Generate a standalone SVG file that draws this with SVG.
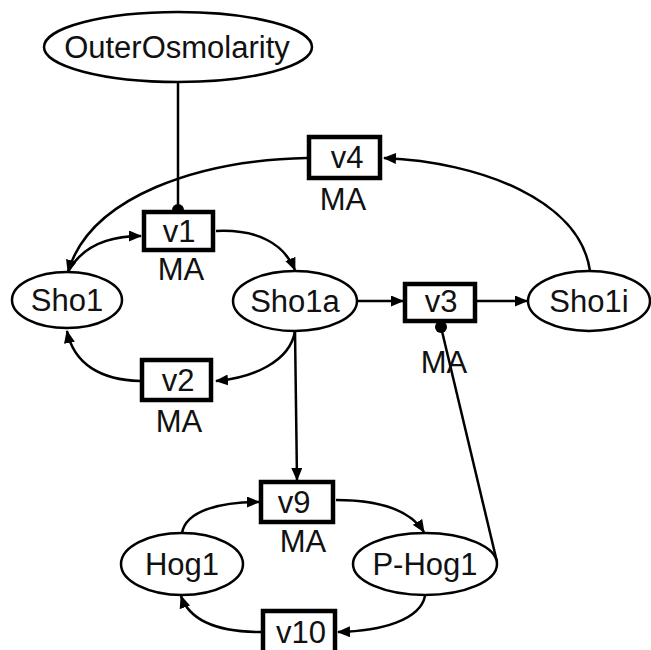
<svg xmlns="http://www.w3.org/2000/svg" width="651" height="650" viewBox="0 0 651 650">
  <style>
    .species { fill: #fff; stroke: #000; stroke-width: 2.5; }
    .reaction { fill: #fff; stroke: #000; stroke-width: 4.5; }
    .label { font-family: "Liberation Sans", Arial, sans-serif; font-size: 31px; fill: #111; text-anchor: middle; }
    .edge { fill: none; stroke: #000; stroke-width: 2.5; }
    .arrow { marker-end: url(#arrowhead); }
  </style>
  <defs>
    <marker id="arrowhead" viewBox="0 0 13 11" refX="12" refY="5.5" markerWidth="13" markerHeight="11" markerUnits="userSpaceOnUse" orient="auto">
      <path d="M0,0 L13,5.5 L0,11 Z" fill="#000"/>
    </marker>
  </defs>
  <rect width="651" height="650" fill="#fff"/>

  <g id="connectors">
    <!-- modifier links -->
    <line class="edge" x1="178" y1="82" x2="178" y2="210"/>
    <circle cx="178" cy="210" r="6" fill="#000"/>
    <line class="edge" x1="497" y1="562" x2="441" y2="327"/>
    <circle cx="441" cy="327" r="6" fill="#000"/>
    <!-- v1: Sho1 -> Sho1a -->
    <path class="edge arrow" d="M68,272 C82,246 108,236 141,236"/>
    <path class="edge arrow" d="M216,231 C258,229 284,244 295,270"/>
    <!-- v2: Sho1a -> Sho1 -->
    <path class="edge arrow" d="M295,331 C290,362 252,378 216,381"/>
    <path class="edge arrow" d="M140,381 C102,380 74,365 67,331"/>
    <!-- v3: Sho1a -> Sho1i -->
    <line class="edge arrow" x1="357" y1="301" x2="403" y2="301"/>
    <line class="edge arrow" x1="477" y1="301" x2="527" y2="301"/>
    <!-- v4: Sho1i -> Sho1 -->
    <path class="edge arrow" d="M590,271 C580,200 480,162 384,158"/>
    <path class="edge arrow" d="M307,158 C200,160 90,196 68,272"/>
    <!-- v9: Hog1 -> P-Hog1, catalysed by Sho1a -->
    <line class="edge arrow" x1="295" y1="331" x2="297" y2="480"/>
    <path class="edge arrow" d="M182,533 C186,510 222,502 259,502"/>
    <path class="edge arrow" d="M336,500 C378,500 410,510 424,532"/>
    <!-- v10: P-Hog1 -> Hog1 -->
    <path class="edge arrow" d="M425,596 C420,620 382,631 338,632"/>
    <path class="edge arrow" d="M261,632 C220,632 190,622 181,596"/>
  </g>

  <g id="OuterOsmolarity">
    <ellipse class="species" cx="178" cy="47" rx="134" ry="35"/>
    <text class="label" x="177" y="58">OuterOsmolarity</text>
  </g>
  <g id="Sho1">
    <ellipse class="species" cx="67" cy="300" rx="55" ry="28"/>
    <text class="label" x="67" y="311">Sho1</text>
  </g>
  <g id="Sho1a">
    <ellipse class="species" cx="295" cy="301" rx="62" ry="30"/>
    <text class="label" x="295" y="312">Sho1a</text>
  </g>
  <g id="Sho1i">
    <ellipse class="species" cx="589" cy="301" rx="61" ry="30"/>
    <text class="label" x="589" y="312">Sho1i</text>
  </g>
  <g id="Hog1">
    <ellipse class="species" cx="182" cy="564" rx="61" ry="31"/>
    <text class="label" x="182" y="575">Hog1</text>
  </g>
  <g id="P-Hog1">
    <ellipse class="species" cx="425" cy="564" rx="72" ry="31"/>
    <text class="label" x="425" y="575">P-Hog1</text>
  </g>

  <g id="v1">
    <rect class="reaction" x="144" y="212" width="69" height="38"/>
    <text class="label" x="179" y="242">v1</text>
    <text class="label" x="181" y="280">MA</text>
  </g>
  <g id="v2">
    <rect class="reaction" x="142" y="360" width="69" height="40"/>
    <text class="label" x="178" y="391">v2</text>
    <text class="label" x="179" y="432">MA</text>
  </g>
  <g id="v3">
    <rect class="reaction" x="405" y="284" width="70" height="37"/>
    <text class="label" x="441" y="312">v3</text>
    <text class="label" x="444" y="373">MA</text>
  </g>
  <g id="v4">
    <rect class="reaction" x="309" y="137" width="71" height="41"/>
    <text class="label" x="347" y="168">v4</text>
    <text class="label" x="343" y="210">MA</text>
  </g>
  <g id="v9">
    <rect class="reaction" x="261" y="482" width="72" height="40"/>
    <text class="label" x="294" y="513">v9</text>
    <text class="label" x="303" y="552">MA</text>
  </g>
  <g id="v10">
    <rect class="reaction" x="263" y="611" width="72" height="44"/>
    <text class="label" x="301" y="643">v10</text>
  </g>
</svg>
